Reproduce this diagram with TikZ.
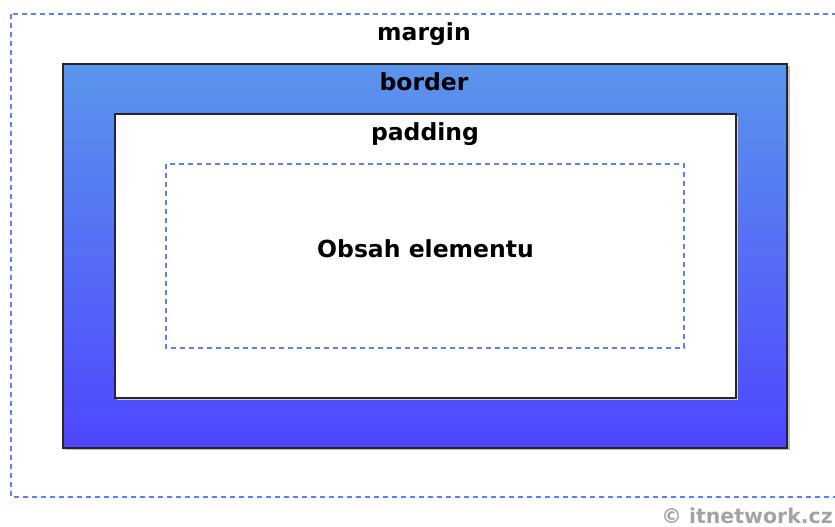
\documentclass[tikz,border=0pt]{standalone}
\usepackage{fontspec}
\setmainfont{DejaVu Sans}
\usetikzlibrary{shadings}
\definecolor{dashblue}{HTML}{5A7FFF}
\definecolor{gradtop}{HTML}{5B95EC}
\definecolor{gradbot}{HTML}{4F46FF}
\definecolor{markgray}{HTML}{A3A3A3}
\tikzset{
  boxlabel/.style={font=\fontsize{23.5}{25}\selectfont\bfseries, text=black, inner sep=0pt, anchor=base},
  dashbox/.style={draw=dashblue, line width=1.4pt, dash pattern=on 5pt off 4pt},
  solidbox/.style={draw=black!85, line width=1.6pt},
}
\begin{document}
\begin{tikzpicture}[x=1pt, y=-1pt]
  \useasboundingbox (0,0) rectangle (835,527);
  \begin{scope}
    \clip (0,0) rectangle (835,527);
    % margin area (runs past the right edge)
    \draw[dashbox] (11,14) rectangle (850,497);
    % border area with gradient and a faint shadow
    \fill[black!25] (65,66) rectangle (789.5,450);
    \shade[top color=gradtop, bottom color=gradbot] (63,64) rectangle (787,448);
    \draw[solidbox] (63,64) rectangle (787,448);
    % padding area
    \fill[black!20] (116.5,115.5) rectangle (737.5,399.5);
    \fill[white] (115,114) rectangle (736,398);
    \draw[solidbox] (115,114) rectangle (736,398);
    % content area
    \draw[dashbox] (166,164) rectangle (684,348);
  \end{scope}
  \node[boxlabel] (lmargin) at (424,41) {margin};
  \node[boxlabel] (lborder) at (424,90) {border};
  \node[boxlabel] (lpadding) at (425,140) {padding};
  \node[boxlabel] (lcontent) at (425.5,257) {Obsah elementu};
  \node[font=\fontsize{20.5}{22}\selectfont\bfseries, text=markgray, inner sep=0pt, anchor=base east] (mark) at (833,523) {© itnetwork.cz};
\end{tikzpicture}
\end{document}
